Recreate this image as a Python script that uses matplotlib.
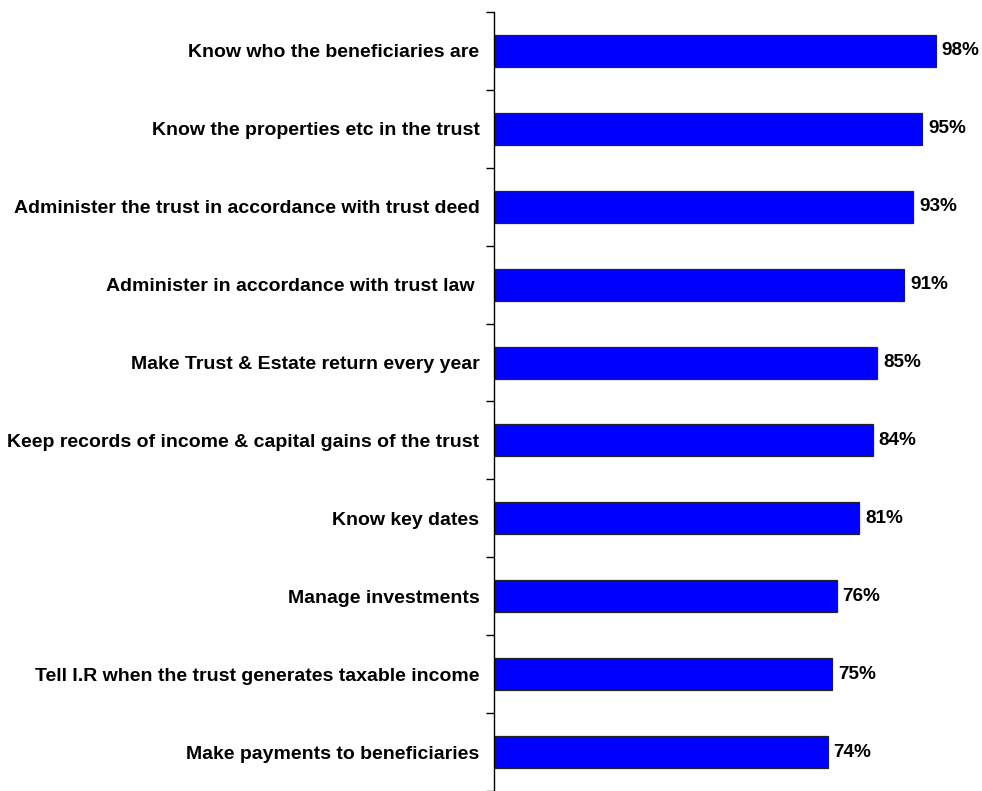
import matplotlib.pyplot as plt
import numpy as np

# survey items, top to bottom, and share who said trustees must do each
items = [
    "Know who the beneficiaries are",
    "Know the properties etc in the trust",
    "Administer the trust in accordance with trust deed",
    "Administer in accordance with trust law ",
    "Make Trust & Estate return every year",
    "Keep records of income & capital gains of the trust",
    "Know key dates",
    "Manage investments",
    "Tell I.R when the trust generates taxable income",
    "Make payments to beneficiaries",
]
pct = [98, 95, 93, 91, 85, 84, 81, 76, 75, 74]

plt.rcParams['font.family'] = ['Liberation Sans', 'DejaVu Sans']

fig = plt.figure(figsize=(9.82, 7.91), dpi=100)
ax = fig.add_axes([494 / 982, 0, 451 / 982, 1 - 12 / 791])

ypos = np.arange(len(items))
ax.barh(ypos, pct, height=0.41, color='#0000FF', edgecolor='#222222', linewidth=0.9)

for y, v in zip(ypos, pct):
    ax.text(v + 1.3, y, f"{v}%", va='center', ha='left', fontsize=13.6, fontweight='bold')

ax.set_xlim(0, 100)
ax.set_ylim(len(items) - 0.5, -0.5)

# category names on the axis, small ticks between the categories
ax.set_yticks(ypos)
ax.set_yticklabels(items, fontsize=14, fontweight='bold')
ax.tick_params(axis='y', which='major', length=0, pad=10.5)
ax.set_yticks(np.arange(len(items) + 1) - 0.5, minor=True)
ax.tick_params(axis='y', which='minor', length=6, width=1, direction='out')

ax.set_xticks([])
for s in ['top', 'right', 'bottom']:
    ax.spines[s].set_visible(False)
ax.spines['left'].set_linewidth(1)

fig.savefig('out.png', dpi=100)
